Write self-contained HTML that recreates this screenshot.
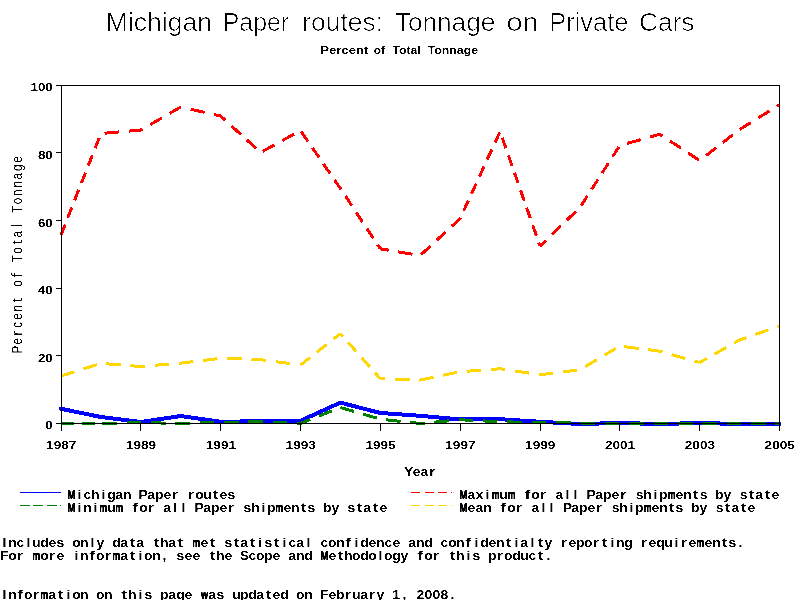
<!DOCTYPE html>
<html><head><meta charset="utf-8"><title>Michigan Paper routes: Tonnage on Private Cars</title>
<style>
html,body{margin:0;padding:0;background:#fff;}
svg{display:block;}
text{font-family:"Liberation Sans",sans-serif;fill:#000;}
.tick{font-weight:bold;font-size:11.5px;}
</style></head><body>
<svg width="800" height="600" viewBox="0 0 800 600">
<rect x="0" y="0" width="800" height="600" fill="#fff"/>
<defs>
<filter id="thin" x="0" y="0" width="800" height="600" filterUnits="userSpaceOnUse"><feComponentTransfer><feFuncA type="linear" slope="5" intercept="-3.6"/></feComponentTransfer></filter>
<filter id="crisp" x="0" y="0" width="800" height="600" filterUnits="userSpaceOnUse"><feComponentTransfer><feFuncA type="linear" slope="4" intercept="-1.5"/></feComponentTransfer></filter>
<filter id="crisp2" x="0" y="0" width="800" height="600" filterUnits="userSpaceOnUse"><feComponentTransfer><feFuncA type="linear" slope="4" intercept="-1.5"/></feComponentTransfer></filter>
</defs>
<g font-size="26px" filter="url(#thin)">
<text x="105.8" y="30.6" textLength="106.2" lengthAdjust="spacingAndGlyphs">Michigan</text>
<text x="222.8" y="30.6" textLength="66.2" lengthAdjust="spacingAndGlyphs">Paper</text>
<text x="302.3" y="30.6" textLength="80.7" lengthAdjust="spacingAndGlyphs">routes:</text>
<text x="394.8" y="30.6" textLength="100.5" lengthAdjust="spacingAndGlyphs">Tonnage</text>
<text x="506.5" y="30.6" textLength="32.0" lengthAdjust="spacingAndGlyphs">on</text>
<text x="549.3" y="30.6" textLength="79.0" lengthAdjust="spacingAndGlyphs">Private</text>
<text x="639.0" y="30.6" textLength="55.5" lengthAdjust="spacingAndGlyphs">Cars</text>
</g>
<g fill="none" shape-rendering="crispEdges">
<polyline points="61.0,408.8 100.9,417.0 140.8,422.0 180.8,416.0 220.7,421.8 260.6,421.2 300.5,420.8 340.4,402.6 380.3,413.0 420.2,415.8 460.2,419.5 500.1,419.2 540.0,421.8 579.9,424.0 619.8,423.0 659.8,424.0 699.7,423.0 739.6,424.0 779.5,424.0" stroke="#0000ff" stroke-width="4" stroke-linejoin="round" stroke-linecap="round"/>
</g>
<g fill="none" shape-rendering="crispEdges">
<path d="M61.0 423.5L74.0 423.5M82.0 423.5L95.0 423.5M102.2 423.5L116.8 423.1M126.6 422.9L140.8 422.5M140.8 422.5L141.2 422.5M151.0 422.8L165.6 423.1M175.3 423.4L180.8 423.5M180.8 423.5L189.9 423.3M199.7 423.0L214.3 422.7M224.1 422.4L238.7 422.0M248.4 421.8L260.6 421.5M260.6 421.5L263.0 421.6M272.8 422.1L287.4 422.8M297.1 423.3L300.5 423.5M300.5 423.5L310.4 419.5M318.9 416.1L331.8 410.9M340.4 407.5L340.4 407.5M340.4 407.5L354.0 411.5M363.1 414.1L376.7 418.1M386.1 419.8L400.6 421.4M410.2 422.4L420.2 423.5M420.2 423.5L424.7 423.1M434.4 422.2L448.9 420.8M458.6 419.9L460.2 419.8M460.2 419.8L473.1 420.4M482.9 420.9L497.5 421.6M507.2 421.9L521.8 422.2M531.6 422.3L540.0 422.5M540.0 422.5L546.2 422.6M556.0 422.7L570.6 422.9M580.3 423.0L595.0 423.2M604.7 423.3L619.3 423.5M629.1 423.5L643.7 423.5M653.5 423.5L659.8 423.5M659.8 423.5L668.1 423.5M677.9 423.5L692.5 423.5M702.2 423.5L716.9 423.5M726.6 423.5L739.6 423.5M739.6 423.5L741.2 423.5M751.0 423.5L765.6 423.5M775.4 423.5L779.5 423.5" stroke="#008000" stroke-width="3"/>
<path d="M61.0 235.0L65.1 224.6M67.8 217.7L71.9 207.3M74.6 200.3L78.7 189.9M81.5 183.0L85.5 172.6M88.3 165.6L92.4 155.2M95.1 148.3L99.2 137.9M104.5 133.2L119.0 131.9M128.7 131.1L140.8 130.0M140.8 130.0L142.7 128.9M150.4 124.5L162.0 117.8M169.7 113.4L180.8 107.0M180.8 107.0L181.3 107.1M190.6 109.2L204.6 112.4M213.9 114.5L220.7 116.0M220.7 116.0L225.5 120.4M231.6 126.0L240.8 134.4M246.9 140.0L256.1 148.4M262.8 151.3L274.5 144.8M282.3 140.5L294.1 134.1M301.3 131.6L307.9 141.3M312.4 147.7L319.0 157.4M323.4 163.8L330.1 173.5M334.5 179.9L340.4 188.5M340.4 188.5L341.1 189.6M345.4 196.0L351.9 205.8M356.2 212.3L362.6 222.0M366.9 228.5L373.3 238.2M377.6 244.7L380.3 248.8M380.3 248.8L388.6 250.2M398.1 251.8L412.4 254.2M421.3 254.5L430.4 246.0M436.5 240.4L445.7 231.9M451.8 226.3L460.2 218.5M460.2 218.5L460.5 217.7M463.7 210.8L468.4 200.6M471.5 193.7L476.2 183.5M479.4 176.6L484.1 166.4M487.2 159.5L491.9 149.3M495.1 142.4L499.8 132.2M502.3 137.8L505.9 148.3M508.4 155.3L512.0 165.8M514.5 172.8L518.1 183.3M520.5 190.3L524.2 200.7M526.6 207.7L530.3 218.2M532.7 225.2L536.4 235.7M538.8 242.7L540.0 246.1M540.0 246.1L546.0 240.3M552.0 234.5L560.9 225.9M566.8 220.2L575.7 211.6M581.1 205.6L587.4 195.9M591.6 189.3L597.9 179.6M602.1 173.0L608.4 163.3M612.6 156.7L618.9 147.0M626.9 143.5L640.6 139.7M649.7 137.1L659.8 134.2M659.8 134.2L662.6 136.2M669.9 141.0L680.9 148.1M688.2 152.9L699.1 160.1M705.9 155.7L716.0 147.8M722.7 142.6L732.8 134.8M739.5 129.5L739.6 129.5M739.6 129.5L750.8 122.6M758.2 117.9L769.5 111.0M776.9 106.3L779.5 104.7" stroke="#ff0000" stroke-width="3"/>
<path d="M61.0 376.0L74.5 371.8M83.4 368.9L96.9 364.7M106.3 363.8L120.8 364.9M130.5 365.7L140.8 366.5M140.8 366.5L145.1 366.2M154.7 365.3L169.3 364.1M179.0 363.3L180.8 363.2M180.8 363.2L193.4 361.6M203.0 360.5L217.5 358.7M227.2 358.5L241.8 359.0M251.5 359.4L260.6 359.7M260.6 359.7L266.1 360.4M275.7 361.7L290.1 363.6M299.7 364.9L300.5 365.0M300.5 365.0L310.0 357.6M316.7 352.3L326.7 344.5M333.4 339.2L340.4 333.8M340.4 333.8L342.9 336.5M348.2 342.5L356.3 351.6M361.6 357.6L369.6 366.7M375.0 372.7L380.3 378.8M380.3 378.8L385.2 378.9M395.0 379.2L409.6 379.7M419.3 380.0L420.2 380.0M420.2 380.0L433.5 377.3M442.9 375.3L456.9 372.4M466.5 371.3L481.1 370.2M490.8 369.4L500.1 368.8M500.1 368.8L505.3 369.5M514.8 371.0L529.2 373.1M538.7 374.6L540.0 374.8M540.0 374.8L553.1 373.1M562.8 371.9L577.2 370.1M585.4 366.5L596.8 359.7M604.4 355.2L615.8 348.4M624.3 346.6L638.7 348.5M648.3 349.7L659.8 351.2M659.8 351.2L662.6 352.0M671.7 354.6L685.4 358.5M694.5 361.0L699.7 362.5M699.7 362.5L706.9 358.4M714.6 354.1L726.3 347.5M734.0 343.1L739.6 340.0M739.6 340.0L746.5 337.6M755.3 334.5L768.6 329.8M777.4 326.7L779.5 326.0" stroke="#ffd700" stroke-width="3"/>
</g>
<g stroke="#000" stroke-width="1" fill="none" shape-rendering="crispEdges">
<rect x="61.5" y="85.5" width="718.0" height="338.0"/>
<line x1="56" y1="423.5" x2="62" y2="423.5"/>
<line x1="56" y1="355.5" x2="62" y2="355.5"/>
<line x1="56" y1="288.5" x2="62" y2="288.5"/>
<line x1="56" y1="220.5" x2="62" y2="220.5"/>
<line x1="56" y1="152.5" x2="62" y2="152.5"/>
<line x1="56" y1="85.5" x2="62" y2="85.5"/>
<line x1="61.5" y1="423" x2="61.5" y2="431"/>
<line x1="140.5" y1="423" x2="140.5" y2="431"/>
<line x1="220.5" y1="423" x2="220.5" y2="431"/>
<line x1="300.5" y1="423" x2="300.5" y2="431"/>
<line x1="380.5" y1="423" x2="380.5" y2="431"/>
<line x1="460.5" y1="423" x2="460.5" y2="431"/>
<line x1="540.5" y1="423" x2="540.5" y2="431"/>
<line x1="619.5" y1="423" x2="619.5" y2="431"/>
<line x1="699.5" y1="423" x2="699.5" y2="431"/>
<line x1="779.5" y1="423" x2="779.5" y2="431"/>
</g>
<g fill="none" stroke-width="1" shape-rendering="crispEdges">
<line x1="20" y1="492.5" x2="61" y2="492.5" stroke="#0000ff"/>
<line x1="20" y1="505.5" x2="61" y2="505.5" stroke="#008000" stroke-dasharray="10 3.3"/>
<line x1="411" y1="492.5" x2="452" y2="492.5" stroke="#ff0000" stroke-dasharray="9 4.5"/>
<line x1="411" y1="505.5" x2="452" y2="505.5" stroke="#ffd700" stroke-dasharray="9 4.5"/>
<line x1="451" y1="492.5" x2="452" y2="492.5" stroke="#ff0000"/>
<line x1="451" y1="505.5" x2="452" y2="505.5" stroke="#ffd700"/>
</g>
<g filter="url(#crisp)">
<g font-size="11px" font-weight="bold">
<text x="320.3" y="53.8" textLength="48.2" lengthAdjust="spacingAndGlyphs">Percent</text>
<text x="373.8" y="53.8" textLength="11.2" lengthAdjust="spacingAndGlyphs">of</text>
<text x="392.5" y="53.8" textLength="28.3" lengthAdjust="spacingAndGlyphs">Total</text>
<text x="427.8" y="53.8" textLength="50.2" lengthAdjust="spacingAndGlyphs">Tonnage</text>
</g>
<text class="tick" x="45.3" y="429.3" textLength="7.4" lengthAdjust="spacingAndGlyphs">0</text>
<text class="tick" x="37.9" y="361.7" textLength="14.8" lengthAdjust="spacingAndGlyphs">20</text>
<text class="tick" x="37.9" y="294.1" textLength="14.8" lengthAdjust="spacingAndGlyphs">40</text>
<text class="tick" x="37.9" y="226.5" textLength="14.8" lengthAdjust="spacingAndGlyphs">60</text>
<text class="tick" x="37.9" y="158.9" textLength="14.8" lengthAdjust="spacingAndGlyphs">80</text>
<text class="tick" x="30.5" y="91.3" textLength="22.2" lengthAdjust="spacingAndGlyphs">100</text>
<text class="tick" x="46.1" y="449.0" textLength="30.2" lengthAdjust="spacingAndGlyphs">1987</text>
<text class="tick" x="125.9" y="449.0" textLength="30.2" lengthAdjust="spacingAndGlyphs">1989</text>
<text class="tick" x="205.8" y="449.0" textLength="30.2" lengthAdjust="spacingAndGlyphs">1991</text>
<text class="tick" x="285.6" y="449.0" textLength="30.2" lengthAdjust="spacingAndGlyphs">1993</text>
<text class="tick" x="365.4" y="449.0" textLength="30.2" lengthAdjust="spacingAndGlyphs">1995</text>
<text class="tick" x="445.3" y="449.0" textLength="30.2" lengthAdjust="spacingAndGlyphs">1997</text>
<text class="tick" x="525.1" y="449.0" textLength="30.2" lengthAdjust="spacingAndGlyphs">1999</text>
<text class="tick" x="604.9" y="449.0" textLength="30.2" lengthAdjust="spacingAndGlyphs">2001</text>
<text class="tick" x="684.8" y="449.0" textLength="30.2" lengthAdjust="spacingAndGlyphs">2003</text>
<text class="tick" x="764.6" y="449.0" textLength="30.2" lengthAdjust="spacingAndGlyphs">2005</text>
<g transform="translate(22.4,254.6) rotate(-90)" font-size="14px">
<text transform="scale(0.83,1)" x="-119.3 -108.4 -88.2 -78.5 -68.6 -38.7 -9.2 1.1 20.7 50.5 60.8 70.7 80.7 90.4 100.8 110.6" y="0.0">PecenoToaTonnage</text>
<text transform="scale(0.95,1)" x="28.9" y="0.0">l</text>
<text transform="scale(1.05,1)" x="-77.4 -45.3 -21.7 9.8" y="0.0">rtft</text>
</g>
</g>
<g filter="url(#crisp2)" font-weight="bold" font-size="12.7px">
<text transform="scale(1.10,1)" x="367.2 375.2 382.2" y="476.2">Yea</text>
<text transform="scale(1.40,1)" x="306.2" y="476.2">r</text>
<text transform="scale(0.80,1)" x="84.0" y="499.1" stroke="#000" stroke-width="0.5">M</text>
<text transform="scale(1.10,1)" x="75.9 82.8 97.6 104.8 111.9 125.9 133.9 140.9 148.6 177.4 184.7 199.5 206.9" y="499.1">chganPapeoues</text>
<text transform="scale(1.12,1)" x="69.1 90.6" y="499.1">ii</text>
<text transform="scale(1.40,1)" x="122.5 133.9 151.7" y="499.1">rrt</text>
<text transform="scale(0.72,1)" x="137.9 160.2 382.4" y="512.1" stroke="#000" stroke-width="0.5">mmm</text>
<text transform="scale(0.80,1)" x="84.0" y="512.1" stroke="#000" stroke-width="0.5">M</text>
<text transform="scale(1.10,1)" x="75.6 97.4 126.5 148.4 176.8 184.8 191.8 199.5 221.4 228.3 242.7 257.7 264.6 279.6 293.6 301.4 316.0 330.2 345.0" y="512.1">nuoaPapeshpensbysae</text>
<text transform="scale(1.12,1)" x="69.1 83.4 154.8 162.0 233.4" y="512.1">iilli</text>
<text transform="scale(1.40,1)" x="94.5 105.3 162.5 214.6 254.6 266.0" y="512.1">frrttt</text>
<text transform="scale(0.72,1)" x="682.5 704.7 927.0" y="499.1" stroke="#000" stroke-width="0.5">mmm</text>
<text transform="scale(0.80,1)" x="574.1" y="499.1" stroke="#000" stroke-width="0.5">M</text>
<text transform="scale(1.10,1)" x="424.9 432.4 453.9 482.9 504.9 533.3 541.2 548.2 556.0 577.9 584.7 599.1 614.2 621.1 636.1 650.1 657.8 672.4 686.7 701.4" y="499.1">axuoaPapeshpensbysae</text>
<text transform="scale(1.12,1)" x="433.5 504.9 512.1 583.5" y="499.1">illi</text>
<text transform="scale(1.40,1)" x="374.6 385.4 442.6 494.7 534.7 546.1" y="499.1">frrttt</text>
<text transform="scale(0.72,1)" x="893.6" y="512.1" stroke="#000" stroke-width="0.5">m</text>
<text transform="scale(0.80,1)" x="574.1" y="512.1" stroke="#000" stroke-width="0.5">M</text>
<text transform="scale(1.10,1)" x="425.1 432.2 439.3 461.1 483.1 511.5 519.4 526.4 534.2 556.1 562.9 577.3 592.3 599.3 614.2 628.2 636.0 650.6 664.9 679.6" y="512.1">eanoaPapeshpensbysae</text>
<text transform="scale(1.12,1)" x="483.5 490.7 562.1" y="512.1">lli</text>
<text transform="scale(1.40,1)" x="357.4 368.3 425.4 477.5 517.5 529.0" y="512.1">frrttt</text>
<text transform="scale(0.72,1)" x="267.1 967.1" y="546.8" stroke="#000" stroke-width="0.5">mm</text>
<text transform="scale(1.10,1)" x="7.4 15.0 29.2 36.6 44.1 51.4 65.6 72.8 87.7 102.1 109.3 123.9 145.5 153.0 182.3 204.1 218.4 240.5 262.2 269.3 291.3 298.3 305.6 327.6 335.0 341.9 349.5 356.8 371.2 378.3 385.7 400.4 407.4 414.6 436.6 444.1 451.0 473.0 495.0 516.8 523.6 531.0 560.1 567.6 589.5 596.6 603.8 625.9 640.4 647.4 662.3" y="546.8">ncudesonydaahaesascacondenceandcondenayepongequeens</text>
<text transform="scale(1.12,1)" x="2.2 23.6 80.7 230.7 252.2 273.6 316.5 423.6 459.3 473.6 545.0 602.2 659.3" y="546.8">Illiiliiilii.</text>
<text transform="scale(1.40,1)" x="92.5 109.6 126.7 149.6 166.7 178.2 195.3 246.6 332.3 361.0 383.9 400.3 423.2 429.6 457.5 486.1 515.3" y="546.8">tttttttffttrrtrrt</text>
<text transform="scale(0.72,1)" x="44.9 156.0" y="559.8" stroke="#000" stroke-width="0.5">mm</text>
<text transform="scale(0.80,1)" x="400.2" y="559.8" stroke="#000" stroke-width="0.5">M</text>
<text transform="scale(1.10,1)" x="-0.1 7.4 36.5 51.3 72.8 87.4 109.3 131.0 138.3 160.5 167.7 175.0 196.4 204.1 218.0 225.9 232.8 240.0 247.7 262.1 269.2 276.6 298.6 312.8 320.1 327.6 334.7 349.2 356.6 364.1 385.6 414.6 429.6 443.6 458.3 465.7 472.9 480.4" y="559.8">FooenoaonseeheScopeandehodoogyohspoduc</text>
<text transform="scale(1.12,1)" x="66.5 123.6 145.0 337.9 416.5 487.9" y="559.8">ii,li.</text>
<text transform="scale(1.40,1)" x="11.8 34.6 63.8 74.6 92.5 149.6 241.0 298.1 308.9 321.0 354.6 383.9" y="559.8">rrfrtttfrtrt</text>
<text transform="scale(0.72,1)" x="56.0 279.0" y="598.7" stroke="#000" stroke-width="0.5">mw</text>
<text transform="scale(1.10,1)" x="7.4 21.9 43.9 65.6 72.8 87.4 94.6 116.4 131.4 145.4 153.0 160.3 167.7 189.3 196.9 211.1 218.1 225.7 233.0 247.7 254.8 269.2 276.5 290.8 298.6 305.4 320.1 327.5 342.3 356.6 378.7 385.9 393.2 400.5" y="598.7">noaononhspageasupdaedonFebuay12008</text>
<text transform="scale(1.12,1)" x="2.2 59.3 123.6 359.3 402.2" y="598.7">Iii,.</text>
<text transform="scale(1.40,1)" x="12.3 23.2 41.0 86.7 189.6 246.1 263.2" y="598.7">frtttrr</text>
</g>
</svg>
</body></html>
